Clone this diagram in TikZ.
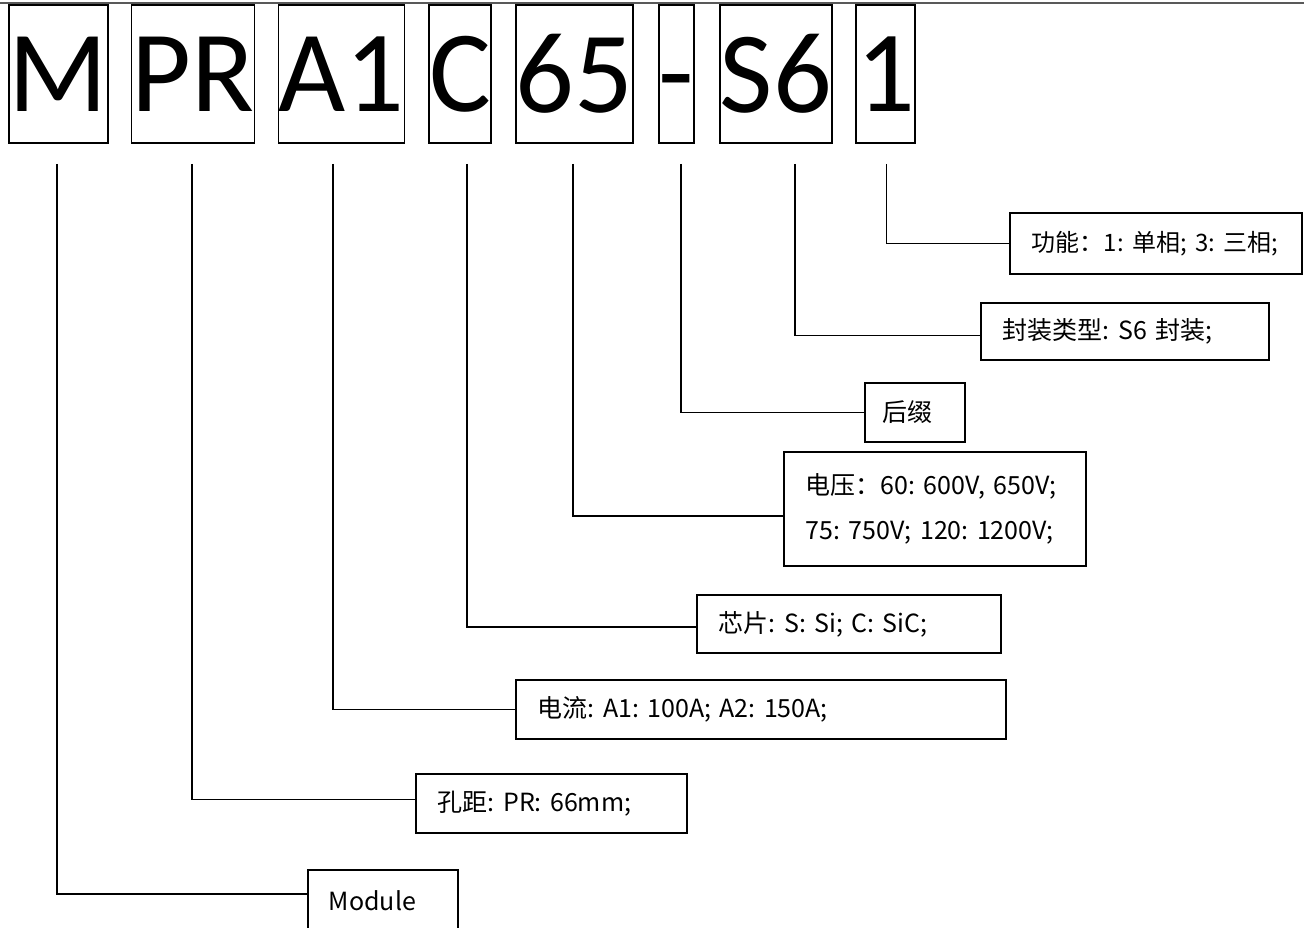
\documentclass[tikz,border=0pt]{standalone}
\usepackage{fontspec}
\setmainfont{Carlito}
\newfontfamily\cjk{Noto Sans CJK SC}
\tikzset{
  codebox/.style={draw, line width=1.8pt, inner sep=0pt, minimum height=138pt, font=\fontsize{116}{116}\selectfont},
  labelbox/.style={draw, line width=1.8pt, anchor=north west, inner xsep=22pt, inner ysep=0pt, align=left, font=\cjk\frenchspacing\fontsize{25}{45}\selectfont},
  link/.style={line width=1.8pt}
}

\begin{document}
\begin{tikzpicture}[x=1pt, y=-1pt]
\useasboundingbox (0,0) rectangle (1304,927);
\draw[black!65, line width=1.5pt] (0,3) -- (1304,3);

% part number
\node[codebox, minimum width=97pt] (m) at (58.5,74) {M};
\node[codebox, minimum width=120pt] (pr) at (193,74) {PR};
\node[codebox, minimum width=123pt] (a1) at (341.5,74) {A1};
\node[codebox, minimum width=62pt] (c) at (460,74) {C};
\node[codebox, minimum width=115pt] (v65) at (574.5,74) {65};
\node[codebox, minimum width=35pt] (dash) at (676.5,74) {\vphantom{M}-};
\node[codebox, minimum width=110pt] (s6) at (776,74) {S6};
\node[codebox, minimum width=57pt] (f1) at (885.5,74) {1};

% meanings
\node[labelbox, text width=248pt, minimum height=61pt] (func) at (1009,212) {\mbox{\fontsize{24}{45}\selectfont 功能：1: 单相; 3: 三相;}};
\node[labelbox, text width=244pt, minimum height=57pt] (pack) at (980,302) {封装类型: S6 封装;};
\node[labelbox, inner xsep=18pt, text width=64pt, minimum height=59pt] (suffix) at (864,382) {后缀};
\node[labelbox, text width=258pt, minimum height=114pt] (volt) at (783,451) {电压：60: 600V, 650V;\\75: 750V; 120: 1200V;};
\node[labelbox, text width=260pt, minimum height=58pt] (chip) at (696,594) {芯片: S: Si; C: SiC;};
\node[labelbox, text width=446pt, minimum height=59pt] (curr) at (515,679) {电流: A1: 100A; A2: 150A;};
\node[labelbox, text width=227pt, minimum height=59pt] (pitch) at (415,773) {孔距: PR: 66mm;};
\node[labelbox, inner xsep=21pt, text width=108pt, minimum height=62pt] (mod) at (307,869) {Module};

% leaders
\draw[link] ([xshift=1pt,yshift=-20pt]f1.south) |- (func.west);
\draw[link] ([xshift=19pt,yshift=-20pt]s6.south) |- ([yshift=-4pt]pack.west);
\draw[link] ([xshift=4.5pt,yshift=-20pt]dash.south) |- (suffix.west);
\draw[link] ([xshift=-1.5pt,yshift=-20pt]v65.south) |- ([yshift=-7pt]volt.west);
\draw[link] ([xshift=7pt,yshift=-20pt]c.south) |- ([yshift=-3pt]chip.west);
\draw[link] ([xshift=-8.5pt,yshift=-20pt]a1.south) |- (curr.west);
\draw[link] ([xshift=-1pt,yshift=-20pt]pr.south) |- ([yshift=4pt]pitch.west);
\draw[link] ([xshift=-1.5pt,yshift=-20pt]m.south) |- ([yshift=7pt]mod.west);
\end{tikzpicture}
\end{document}
